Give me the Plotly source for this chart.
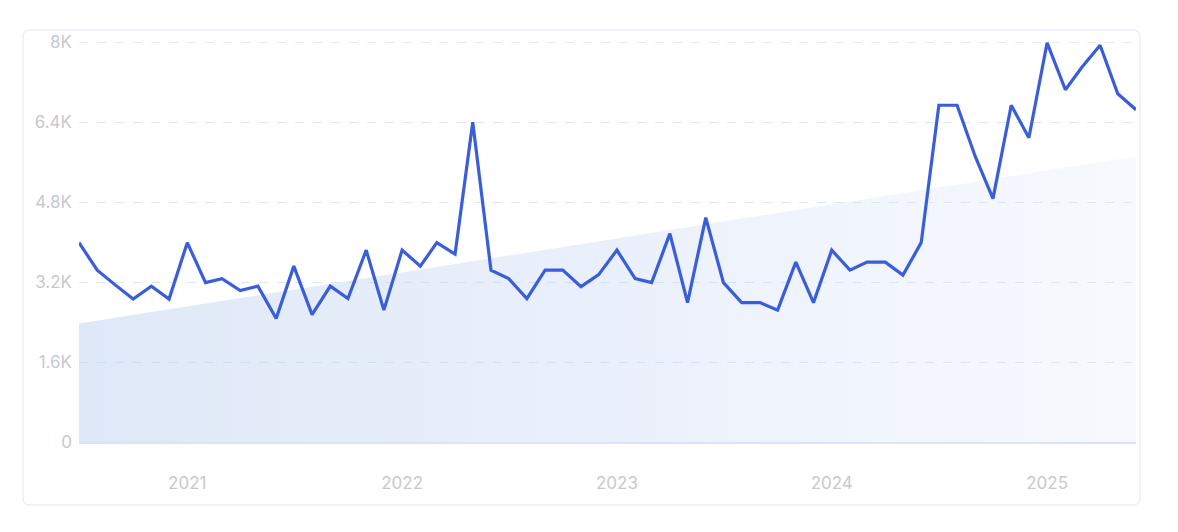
import pandas as pd
import plotly.graph_objects as go

# ---- data ----
months = pd.date_range("2020-07-01", "2025-06-01", freq="MS")
values = [
    3990, 3440, 3140, 2860, 3120, 2860, 3990, 3190, 3270, 3030, 3120, 2470,
    3520, 2550, 3120, 2870, 3840, 2640, 3840, 3520, 3990, 3760, 6400, 3440,
    3270, 2870, 3440, 3440, 3110, 3350, 3840, 3270, 3190, 4170, 2790, 4490,
    3190, 2790, 2790, 2640, 3600, 2790, 3840, 3440, 3600, 3600, 3340, 3990,
    6740, 6740, 5710, 4870, 6740, 6090, 7990, 7050, 7500, 7940, 6970, 6650,
]
trend_x = [months[0], months[-1]]
trend_y = [2370, 5720]
y_tickvals = [0, 1600, 3200, 4800, 6400, 8000]
y_ticktext = ["0", "1.6K", "3.2K", "4.8K", "6.4K", "8K"]
x_tickvals = ["2021-01-01", "2022-01-01", "2023-01-01", "2024-01-01", "2025-01-01"]
x_ticktext = ["2021", "2022", "2023", "2024", "2025"]

# page has an 8px body margin
OFF = 8
W, H = 1178 - OFF, 532 - OFF
ML, MR, MT, MB = 79 - OFF, 42, 42 - OFF, 90
PW, PH = W - ML - MR, H - MT - MB

fig = go.Figure()
fig.add_trace(go.Scatter(
    x=trend_x, y=trend_y, mode="lines", line=dict(width=0),
    fill="tozeroy",
    fillgradient=dict(type="horizontal",
                      colorscale=[[0, "rgba(191,209,241,0.5)"],
                                  [0.5, "rgba(200,216,244,0.38)"],
                                  [1, "rgba(222,231,250,0.25)"]]),
    hoverinfo="skip", showlegend=False,
))
fig.add_trace(go.Scatter(
    x=months, y=values, mode="lines",
    line=dict(color="#3a5ddc", width=3.2), showlegend=False,
))

# rounded card border (page pixel coordinates -> paper)
def P(px, py):
    a = (px - OFF - ML) / PW
    b = (MT + PH - (py - OFF)) / PH
    return f"{a:.5f},{b:.5f}"

x0, y0, x1, y1, r = 23, 30, 1140, 505, 7
path = (f"M {P(x0 + r, y0)} L {P(x1 - r, y0)} Q {P(x1, y0)} {P(x1, y0 + r)} "
        f"L {P(x1, y1 - r)} Q {P(x1, y1)} {P(x1 - r, y1)} "
        f"L {P(x0 + r, y1)} Q {P(x0, y1)} {P(x0, y1 - r)} "
        f"L {P(x0, y0 + r)} Q {P(x0, y0)} {P(x0 + r, y0)} Z")
fig.add_shape(type="path", path=path, xref="paper", yref="paper",
              line=dict(color="#dfe6f5", width=1), layer="below")
# top grid line (plotly drops the gridline on the plot edge)
fig.add_shape(type="line", xref="paper", yref="y", x0=0, x1=1,
              y0=y_tickvals[-1], y1=y_tickvals[-1],
              line=dict(color="#dce7f6", width=1, dash="dash"), layer="below")

tickfont = dict(family="Inter, 'Noto Sans', sans-serif", size=17, color="#c8c9ce")
fig.update_layout(
    width=W, height=H,
    margin=dict(l=ML, r=MR, t=MT, b=MB),
    paper_bgcolor="white", plot_bgcolor="white",
    xaxis=dict(
        range=[months[0], months[-1]], tickvals=x_tickvals, ticktext=x_ticktext,
        showgrid=False, zeroline=False, showline=True, linecolor="#d9e5f7", linewidth=1.5,
        ticks="", tickfont=tickfont, ticklabelstandoff=25,
    ),
    yaxis=dict(
        range=[0, 8006], tickvals=y_tickvals, ticktext=y_ticktext,
        showgrid=True, gridcolor="#dce7f6", griddash="dash", gridwidth=1,
        zeroline=False, showline=False, ticks="", tickfont=tickfont,
        ticklabelstandoff=6,
    ),
    hovermode="x",
)
fig.write_html("out.html")
